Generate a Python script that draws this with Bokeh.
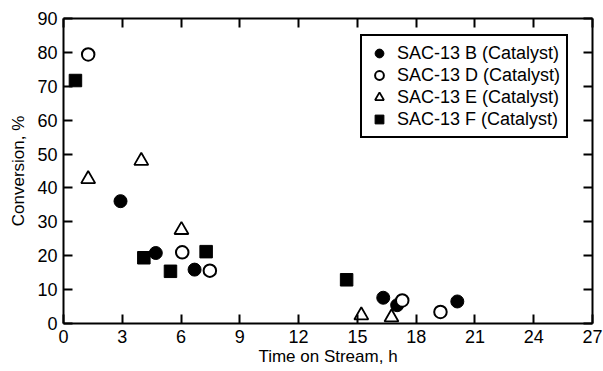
from bokeh.plotting import figure
from bokeh.models import Range1d, LinearAxis, FixedTicker, Legend, LegendItem
from bokeh.embed import file_html
from bokeh.resources import INLINE

# ---- data ----
series_names = ["SAC-13 B (Catalyst)", "SAC-13 D (Catalyst)",
                "SAC-13 E (Catalyst)", "SAC-13 F (Catalyst)"]

b_time = [2.91, 4.71, 6.69, 16.32, 17.03, 20.10]
b_conv = [36.1, 20.8, 15.9, 7.6, 5.4, 6.5]

d_time = [1.26, 6.06, 7.47, 17.29, 19.24]
d_conv = [79.4, 21.0, 15.6, 6.8, 3.4]

e_time = [1.26, 3.97, 6.02, 15.20, 16.74]
e_conv = [42.6, 48.0, 27.6, 2.4, 1.8]

f_time = [0.61, 4.10, 5.46, 7.28, 14.45]
f_conv = [71.7, 19.4, 15.4, 21.2, 12.9]

x_ticks = [0, 3, 6, 9, 12, 15, 18, 21, 24, 27]
y_ticks = [0, 10, 20, 30, 40, 50, 60, 70, 80, 90]

FONT = "Liberation Sans"

p = figure(frame_width=529, frame_height=305,
           x_range=Range1d(0, 27), y_range=Range1d(0, 90),
           output_backend="svg", toolbar_location=None,
           min_border_left=63, min_border_right=11,
           min_border_top=18, min_border_bottom=48,
           background_fill_color="white", border_fill_color="white")
p.grid.visible = False
p.outline_line_color = None

xb = p.xaxis[0]
yl = p.yaxis[0]
xb.ticker = FixedTicker(ticks=x_ticks)
yl.ticker = FixedTicker(ticks=y_ticks)
for ax in (xb, yl):
    ax.axis_line_width = 2
    ax.axis_line_color = "black"
    ax.major_tick_in = 9
    ax.major_tick_out = 0
    ax.major_tick_line_width = 2
    ax.major_tick_line_color = "black"
    ax.minor_tick_line_color = None
    ax.major_label_text_font = FONT
    ax.major_label_text_font_size = "18px"
    ax.major_label_text_color = "black"
    ax.major_label_standoff = 6
    ax.axis_label_text_font = FONT
    ax.axis_label_text_font_size = "17px"
    ax.axis_label_text_font_style = "normal"
    ax.axis_label_text_color = "black"
xb.axis_label = "Time on Stream, h"
yl.axis_label = "Conversion, %"
xb.axis_label_standoff = 1
yl.axis_label_standoff = 6

for loc, ticks in (("above", x_ticks), ("right", y_ticks)):
    ax = LinearAxis(ticker=FixedTicker(ticks=ticks),
                    axis_line_width=2, axis_line_color="black",
                    major_tick_in=9, major_tick_out=0,
                    major_tick_line_width=2, major_tick_line_color="black",
                    minor_tick_line_color=None,
                    major_label_text_font_size="0px", major_label_standoff=0,
                    major_label_text_color=None)
    p.add_layout(ax, loc)

r_b = p.scatter(b_time, b_conv, marker="circle", size=13,
                fill_color="black", line_color="black", line_width=1)
r_d = p.scatter(d_time, d_conv, marker="circle", size=12.5,
                fill_color="white", line_color="black", line_width=2)
r_e = p.scatter(e_time, e_conv, marker="triangle", size=14,
                fill_color="white", line_color="black", line_width=1.8)
r_f = p.scatter(f_time, f_conv, marker="square", size=12.5,
                fill_color="black", line_color="black", line_width=1)

legend = Legend(items=[LegendItem(label=n, renderers=[r])
                       for n, r in zip(series_names, [r_b, r_d, r_e, r_f])],
                location=(297, 185), orientation="vertical",
                border_line_color="black", border_line_width=2,
                border_line_alpha=1.0,
                background_fill_color="white", background_fill_alpha=1.0,
                padding=6, spacing=0, margin=0,
                glyph_width=22, glyph_height=22, label_standoff=7,
                label_height=22,
                label_text_font=FONT, label_text_font_size="18px",
                label_text_color="black")
p.add_layout(legend)

open("out.html", "w").write(file_html(p, INLINE))
